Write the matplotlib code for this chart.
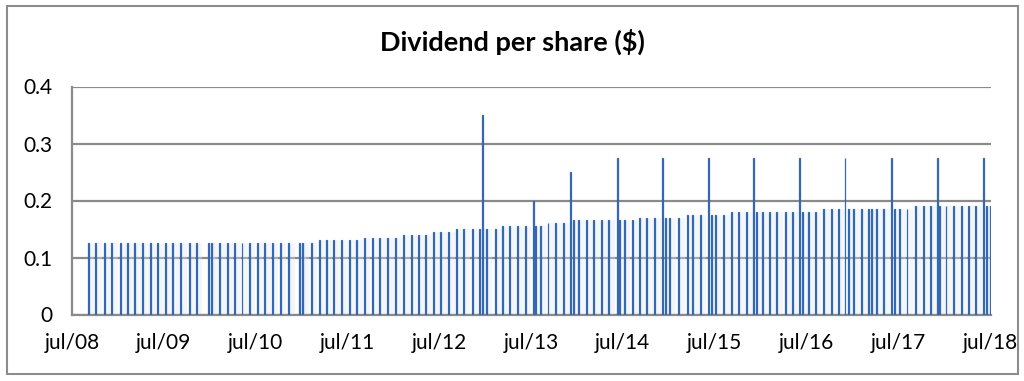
import matplotlib
matplotlib.use("Agg")
import matplotlib.pyplot as plt
import matplotlib.dates as mdates
from matplotlib.patches import Rectangle
import datetime as dt

# ---- data ----
regular_dates = [
    "2008-09-03", "2008-10-03", "2008-11-06", "2008-12-05", "2009-01-10", "2009-02-07",
    "2009-03-07", "2009-04-08", "2009-05-08", "2009-06-07", "2009-07-08", "2009-08-06",
    "2009-09-07", "2009-10-10", "2009-11-08", "2009-12-27", "2010-01-07", "2010-02-09",
    "2010-03-11", "2010-04-09", "2010-05-08", "2010-06-06", "2010-07-08", "2010-08-07",
    "2010-09-05", "2010-10-08", "2010-11-09", "2010-12-23", "2011-01-04", "2011-02-08",
    "2011-03-13", "2011-04-09", "2011-05-08", "2011-06-09", "2011-07-10", "2011-08-08",
    "2011-09-07", "2011-10-08", "2011-11-06", "2011-12-09", "2012-01-07",
    "2012-02-10", "2012-03-11", "2012-04-08", "2012-05-07",
    "2012-06-09", "2012-07-07", "2012-08-07",
    "2012-09-06", "2012-10-06", "2012-11-09", "2012-12-08", "2013-01-04", "2013-02-10",
    "2013-03-09", "2013-04-07", "2013-05-08", "2013-06-07", "2013-07-19", "2013-08-08",
    "2013-09-06", "2013-10-07", "2013-11-08",
    "2013-12-15", "2014-01-07", "2014-02-06", "2014-03-07", "2014-04-07", "2014-05-06",
    "2014-06-16", "2014-07-06", "2014-08-07",
    "2014-09-06", "2014-10-04", "2014-11-04", "2014-12-17", "2015-01-03", "2015-02-08",
    "2015-03-14", "2015-04-05", "2015-05-05", "2015-06-17", "2015-07-04", "2015-08-05",
    "2015-09-05", "2015-10-05", "2015-11-06", "2015-12-13", "2016-01-07", "2016-02-04",
    "2016-03-04", "2016-04-08", "2016-05-05", "2016-06-16", "2016-07-07", "2016-08-04",
    "2016-09-07", "2016-10-07", "2016-11-05", "2016-12-15", "2017-01-04", "2017-02-05",
    "2017-03-05", "2017-03-15", "2017-04-05", "2017-05-04", "2017-06-15", "2017-07-05",
    "2017-08-04",
    "2017-09-06", "2017-10-08", "2017-11-07", "2017-12-12", "2018-01-06", "2018-02-05",
    "2018-03-07", "2018-04-05", "2018-05-05", "2018-06-15", "2018-07-02",
]
regular_values = (
    [0.125] * 30 + [0.13] * 6 + [0.135] * 5 + [0.14] * 4 + [0.145] * 3 +
    [0.15] * 6 + [0.155] * 6 + [0.16] * 3 + [0.165] * 9 + [0.17] * 6 +
    [0.175] * 6 + [0.18] * 12 + [0.185] * 13 + [0.19] * 11
)
special_dates = [
    "2012-12-21", "2013-07-09", "2013-12-06", "2014-06-09", "2014-12-05", "2015-06-07",
    "2015-12-03", "2016-06-03", "2016-11-30", "2017-06-02", "2017-12-04", "2018-06-03",
]
special_values = [0.35, 0.20, 0.25, 0.275, 0.275, 0.275, 0.275, 0.275, 0.275, 0.275, 0.275, 0.275]

x_tick_dates = ["2008-07-01", "2009-07-01", "2010-07-01", "2011-07-01", "2012-07-01",
                "2013-07-01", "2014-07-01", "2015-07-01", "2016-07-01", "2017-07-01",
                "2018-07-01"]
x_tick_labels = ["jul/08", "jul/09", "jul/10", "jul/11", "jul/12", "jul/13",
                 "jul/14", "jul/15", "jul/16", "jul/17", "jul/18"]
y_ticks = [0, 0.1, 0.2, 0.3, 0.4]
y_tick_labels = ["0", "0.1", "0.2", "0.3", "0.4"]
title = "Dividend per share ($)"

# ---- drawing ----
def to_dates(lst):
    return [dt.datetime.strptime(s, "%Y-%m-%d") for s in lst]

plt.rcParams['font.family'] = ['Lato', 'DejaVu Sans']

fig = plt.figure(figsize=(10.24, 3.81), dpi=100)
ax = fig.add_axes([72 / 1024, 1 - 314.5 / 381, (991 - 72) / 1024, (314.5 - 86.5) / 381])

rd = to_dates(regular_dates)
sd = to_dates(special_dates)

bar_color = "#3568b2"
# faint gradient-like fill beside each regular bar
ax.bar(mdates.date2num(rd) + 13, regular_values, width=22, color="#dfe7f4", alpha=0.35,
       linewidth=0, zorder=1)
ax.bar(rd, regular_values, width=3.5, color=bar_color, edgecolor=bar_color,
       linewidth=0.9, zorder=3)
ax.bar(sd, special_values, width=3.0, color=bar_color, edgecolor=bar_color,
       linewidth=0.9, zorder=3)

ax.set_xlim(dt.datetime(2008, 7, 1), dt.datetime(2018, 7, 4))
ax.set_ylim(0, 0.4)
ax.set_yticks(y_ticks)
ax.set_yticklabels(y_tick_labels)
ax.set_xticks(to_dates(x_tick_dates))
ax.set_xticklabels(x_tick_labels)

ax.grid(axis="y", color="#8a8a8a", linewidth=1.6, zorder=2)
ax.set_axisbelow(True)
for s in ["top", "right"]:
    ax.spines[s].set_visible(False)
for s in ["left", "bottom"]:
    ax.spines[s].set_color("#8a8a8a")
    ax.spines[s].set_linewidth(1.6)
ax.tick_params(axis="both", length=0, labelsize=15, colors="black")
ax.tick_params(axis="x", pad=13)
ax.tick_params(axis="y", pad=14)

fig.text(0.5, 1 - 42 / 381, title, ha="center", va="center", fontsize=19.5,
         fontweight="bold")

fig.patches.append(Rectangle((7 / 1024, 1 - 374 / 381), 1011 / 1024, 368 / 381,
                             transform=fig.transFigure, fill=False,
                             edgecolor="#8c8c8c", linewidth=1.5))

fig.savefig("out.png", dpi=100)
